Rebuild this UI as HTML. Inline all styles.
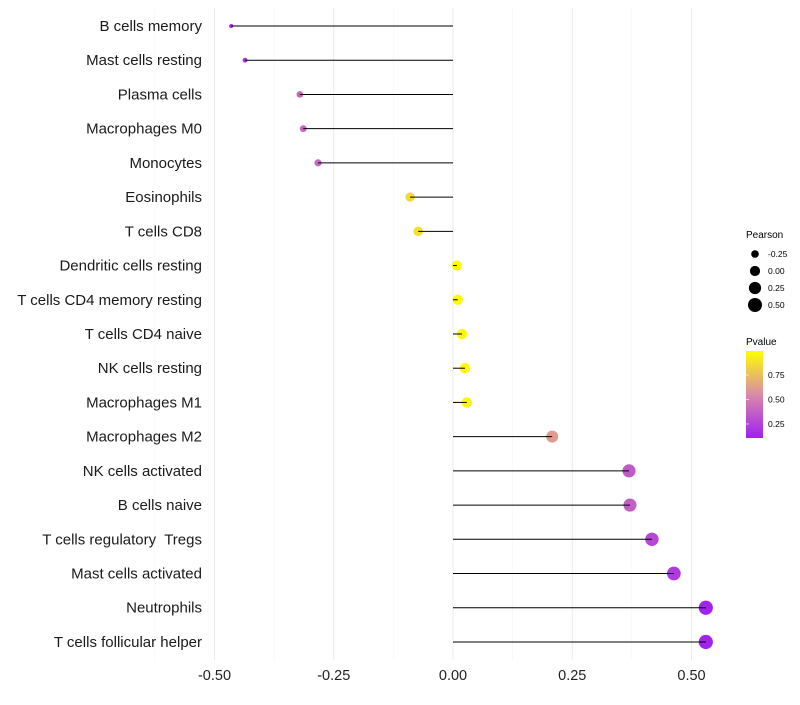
<!DOCTYPE html>
<html><head><meta charset="utf-8"><style>
body{margin:0;background:#fff;font-family:"Liberation Sans",sans-serif}
text{white-space:pre}
</style></head><body>
<svg id="chart" width="800" height="700" xmlns="http://www.w3.org/2000/svg">
<g id="grid"></g>
<g id="pts"></g>
<g id="marks"></g>
<g id="ylabels"></g>
<g id="xlabels"></g>
<g id="legend">
<text x="746" y="238" font-size="10">Pearson</text>
<g id="sizeLeg"></g>
<text x="746" y="345" font-size="10">Pvalue</text>
<defs><linearGradient id="pg" x1="0" y1="1" x2="0" y2="0">
<stop offset="0" stop-color="#A020F0"/><stop offset="0.5" stop-color="#D98AA8"/><stop offset="1" stop-color="#FFFF00"/></linearGradient></defs>
<rect x="746" y="351" width="17" height="87" fill="url(#pg)"/>
<g id="cbTicks"></g>
</g>
</svg>
<script>
const categories=["B cells memory","Mast cells resting","Plasma cells","Macrophages M0","Monocytes","Eosinophils","T cells CD8","Dendritic cells resting","T cells CD4 memory resting","T cells CD4 naive","NK cells resting","Macrophages M1","Macrophages M2","NK cells activated","B cells naive","T cells regulatory  Tregs","Mast cells activated","Neutrophils","T cells follicular helper"];
const pearson=[-0.465,-0.436,-0.321,-0.314,-0.283,-0.090,-0.073,0.008,0.010,0.019,0.025,0.029,0.208,0.369,0.371,0.417,0.463,0.530,0.530];
const pvalue=[0.2,0.2,0.4,0.4,0.42,0.85,0.87,0.98,0.98,0.97,0.97,0.97,0.62,0.35,0.37,0.28,0.22,0.12,0.12];
const xTicks=[-0.5,-0.25,0,0.25,0.5];
const xTickLabels=["-0.50","-0.25","0.00","0.25","0.50"];
const sizeLegend=[-0.25,0,0.25,0.5];
const sizeLegendLabels=["-0.25","0.00","0.25","0.50"];
const pTicks=[0.25,0.5,0.75];
const pTickLabels=["0.25","0.50","0.75"];
const NS="http://www.w3.org/2000/svg";
const xs=v=>453+v*477;
const ys=i=>26+i*34.22;
const rs=v=>Math.sqrt(Math.max(1,26+46*v));
const pmin=0.107,pmax=0.995;
const pys=p=>438-(p-pmin)/(pmax-pmin)*87;
function lerp(a,b,t){return a.map((x,i)=>Math.round(x+(b[i]-x)*t));}
function col(p){const t=Math.min(1,Math.max(0,(p-pmin)/(pmax-pmin)));const A=[160,32,240],M=[217,138,168],Y=[255,255,0];
const c=t<0.5?lerp(A,M,t/0.5):lerp(M,Y,(t-0.5)/0.5);return `rgb(${c})`;}
function mk(tag,at,parent){const e=document.createElementNS(NS,tag);for(const k in at)e.setAttribute(k,at[k]);document.getElementById(parent).appendChild(e);return e;}
for(let v=-0.625;v<=0.6;v+=0.125){const major=Math.abs(v/0.25-Math.round(v/0.25))<1e-6;
const l=mk('line',{x1:xs(v),x2:xs(v),y1:8,y2:660,stroke:major?'#ebebeb':'#f5f5f5','stroke-width':major?1:0.6},'grid');

}
categories.forEach((c,i)=>{
const y=ys(i);
const ci=mk('circle',{cx:xs(pearson[i]),cy:y,r:rs(pearson[i]),fill:col(pvalue[i])},'pts');


const ln=mk('line',{x1:xs(0),x2:xs(pearson[i]),y1:y,y2:y,stroke:'#000','stroke-width':1},'marks');


const t=mk('text',{x:202,y:y+5,'text-anchor':'end','font-size':15,fill:'#1a1a1a'},'ylabels');t.textContent=c;


});
xTicks.forEach((v,i)=>{const t=mk('text',{x:xs(v),y:680,'text-anchor':'middle','font-size':14.5,fill:'#222'},'xlabels');t.textContent=xTickLabels[i];

});
sizeLegend.forEach((v,i)=>{const y=254+i*17;
const c=mk('circle',{cx:755,cy:y,r:rs(v),fill:'#000'},'sizeLeg');


const t=mk('text',{x:768,y:y+3,'font-size':8.5},'sizeLeg');t.textContent=sizeLegendLabels[i];

});
pTicks.forEach((p,i)=>{const y=pys(p);
const t=mk('text',{x:768,y:y+3,'font-size':8.5},'cbTicks');t.textContent=pTickLabels[i];


const l=mk('line',{x1:746,x2:749,y1:y,y2:y,stroke:'#fff','stroke-width':0.6},'cbTicks');

});
</script>
</body></html>
